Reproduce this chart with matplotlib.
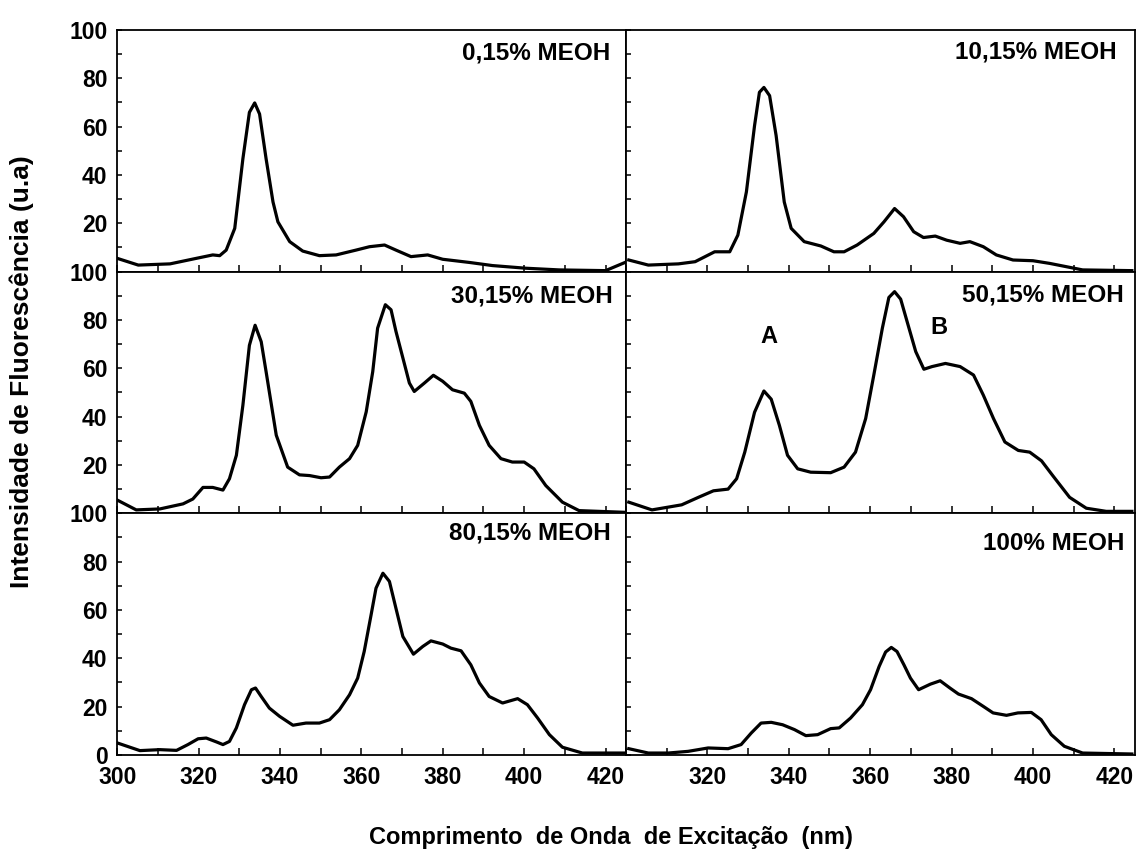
import matplotlib
matplotlib.use('Agg')
import matplotlib.pyplot as plt
from matplotlib.ticker import MultipleLocator

plt.rcParams['font.family'] = ['Liberation Sans', 'DejaVu Sans']
plt.rcParams['font.weight'] = 'bold'

# ----------------------------------------------------------------
# Data (wavelength nm, intensity u.a)
# ----------------------------------------------------------------
panel_titles = ['0,15% MEOH', '10,15% MEOH', '30,15% MEOH',
                '50,15% MEOH', '80,15% MEOH', '100% MEOH']

wl_0 = [300, 305.2, 313, 319.5, 323.5, 325.2, 326.8, 328.9, 330.9, 332.5, 333.8, 335,
        336.6, 338.3, 339.5, 342.4, 345.6, 349.7, 353.8, 358.7, 362, 365.7, 368.5,
        372.2, 376.3, 380, 386.5, 392.2, 400.4, 408.6, 420, 424.8]
int_0 = [5.5, 2.7, 3.2, 5.5, 6.9, 6.6, 8.9, 17.9, 46.7, 65.9, 69.8, 65.2,
         46.7, 28.8, 20.6, 12.4, 8.5, 6.6, 6.9, 8.9, 10.3, 11, 8.9,
         6.2, 6.9, 5.1, 3.8, 2.5, 1.4, 0.7, 0.4, 3.8]

wl_10 = [300.7, 305.5, 312.9, 317, 321.8, 325.5, 327.5, 329.6, 331.6, 332.8, 333.9,
         335.3, 336.9, 338.9, 340.6, 343.8, 347.9, 351.1, 353.6, 356.8, 360.9, 363.4,
         366, 368.2, 370.7, 373.1, 376, 378.8, 382.1, 384.5, 387.8, 391, 395.1, 400,
         404.1, 412.2, 424.3]
int_10 = [4.8, 2.7, 3.2, 4.1, 8.2, 8.2, 15.1, 33, 60.4, 74.2, 76.2,
          72.8, 56.3, 28.8, 17.9, 12.4, 10.6, 8.2, 8.2, 11, 15.8, 20.6,
          26.1, 22.7, 16.5, 14.1, 14.7, 13, 11.7, 12.4, 10.3, 6.9, 4.8, 4.5,
          3.4, 0.7, 0.4]

wl_30 = [300, 304.7, 310.5, 316.2, 318.6, 321.1, 323.5, 326, 327.6, 329.3, 330.9,
         332.5, 333.9, 335.4, 336.6, 339.1, 341.9, 344.8, 347.3, 350.1, 352.2, 354.6,
         357.1, 359.1, 361.2, 362.8, 364, 365.9, 367.3, 368.5, 370.2, 371.8, 373,
         375.5, 377.7, 380, 382.4, 385.3, 386.9, 389, 391.4, 394.3, 397.1, 400,
         402.4, 405.3, 409.4, 413.5, 424.8]
int_30 = [5.5, 1.4, 1.8, 3.9, 5.9, 10.7, 10.7, 9.6, 14.3, 24, 44.7,
          69.5, 77.8, 71, 58.6, 32.3, 19.1, 15.9, 15.6, 14.7, 15, 19.1,
          22.6, 28.1, 42, 58.6, 76.6, 86.3, 84.2, 75.3, 64.3, 53.9, 50.4,
          53.9, 57.1, 54.6, 51.1, 49.7, 46.3, 36.4, 28.1, 22.6, 21.2, 21.2,
          18.4, 11.5, 4.6, 1.1, 0.4]

wl_50 = [300.7, 306.4, 313.7, 317.8, 321.5, 325.1, 327.2, 329.2, 331.6, 333.9, 335.7,
         337.7, 339.7, 342.2, 345.4, 350.3, 353.6, 356.4, 358.9, 360.9, 363, 364.6,
         366, 367.5, 369.1, 371.2, 373.2, 375.2, 378.5, 382.1, 385.4, 387.8, 390.3,
         393.1, 396.4, 399.2, 402.1, 404.9, 409, 413.1, 418, 424.3]
int_50 = [4.6, 1.4, 3.5, 6.6, 9.3, 10, 14.3, 25.3, 41.8, 50.6, 47.2,
          36.4, 24, 18.4, 17, 16.8, 19.1, 25.3, 39.2, 57.2, 76.6, 89.3,
          91.7, 88.6, 79.2, 66.9, 59.6, 60.7, 62, 60.7, 57.2, 48.9, 39.2,
          29.5, 26, 25.3, 21.7, 15.5, 6.6, 2.1, 0.8, 0.8]

wl_80 = [300, 305.6, 310.5, 314.6, 317.4, 319.9, 321.9, 324.4, 326, 327.6, 329.3,
         331.3, 333, 334, 335.4, 337.4, 339.9, 343.2, 346.4, 349.7, 352.2, 354.6,
         357.1, 359.1, 360.7, 362.4, 363.6, 365.3, 366.9, 368.5, 370.2, 372.8, 375.1,
         377.1, 380, 382, 384.5, 386.9, 389, 391.4, 394.7, 398.4, 400.8, 403.3,
         406.2, 409.4, 414.3, 424.8]
int_80 = [5, 1.8, 2.2, 1.9, 4.3, 6.7, 7, 5.4, 4.3, 5.6, 11.2,
          20.8, 27, 27.7, 24.2, 19.4, 16, 12.3, 13.2, 13.2, 14.6, 18.7,
          24.9, 31.8, 42.8, 58, 69, 75.2, 71.8, 60.7, 49, 41.7, 44.9,
          47.2, 45.9, 44.2, 43.1, 37.3, 29.8, 24.2, 21.5, 23.3, 20.8, 15.3,
          8.4, 3.2, 0.8, 0.8]

wl_100 = [300.7, 305.5, 310.4, 315.3, 320.2, 325.1, 328.3, 330.8, 333.2, 335.7, 338.5,
          341.4, 344.2, 347.1, 350.3, 352.4, 355.2, 358.1, 360.1, 362.2, 363.8, 365.2,
          366.6, 368.3, 369.9, 371.9, 374.8, 377.2, 379.6, 381.7, 384.9, 387.8, 390.2,
          393.5, 396.3, 399.6, 402, 404.5, 407.7, 412.2, 424.3]
int_100 = [2.6, 0.8, 0.8, 1.5, 2.9, 2.6, 4.3, 9.1, 13.2, 13.5, 12.5,
           10.5, 8, 8.4, 10.9, 11.2, 15.3, 20.8, 27, 36.6, 42.6, 44.5,
           42.8, 37.3, 31.8, 27, 29.3, 30.7, 27.7, 25.2, 23.3, 20.1, 17.4,
           16.4, 17.4, 17.6, 14.6, 8.4, 3.6, 0.8, 0.4]

wavelengths = [wl_0, wl_10, wl_30, wl_50, wl_80, wl_100]
intensities = [int_0, int_10, int_30, int_50, int_80, int_100]

title_pos = [(0.970, 0.904), (0.964, 0.908), (0.975, 0.897),
             (0.978, 0.903), (0.970, 0.918), (0.979, 0.877)]

x_ticks = [300, 320, 340, 360, 380, 400, 420]
y_ticks = [0, 20, 40, 60, 80, 100]

# ----------------------------------------------------------------
# Figure
# ----------------------------------------------------------------
fig, axes = plt.subplots(3, 2, figsize=(11.37, 8.55), dpi=100,
                         gridspec_kw={'hspace': 0, 'wspace': 0})
fig.subplots_adjust(left=0.103, right=0.998, top=0.965, bottom=0.117)

for i, ax in enumerate(axes.flat):
    row, col = divmod(i, 2)
    ax.plot(wavelengths[i], intensities[i], color='black', lw=2.3,
            solid_joinstyle='round')
    ax.set_xlim(300, 425)
    ax.set_ylim(0, 100)

    ax.xaxis.set_minor_locator(MultipleLocator(10))
    ax.yaxis.set_minor_locator(MultipleLocator(10))
    ax.tick_params(which='both', direction='in', top=False, right=False,
                   labelsize=16.5, width=1.1)
    ax.tick_params(axis='x', which='both', length=5, pad=8)
    ax.tick_params(axis='y', which='both', length=3.5, pad=7)

    # x labels only on the bottom row, right column drops the 300
    if row == 2:
        xl = [str(t) for t in x_ticks]
        if col == 1:
            xl[0] = ''
        ax.set_xticks(x_ticks, xl)
    else:
        ax.set_xticks(x_ticks, [''] * len(x_ticks))

    # y labels only on the left column, 0 hidden except bottom row
    if col == 0:
        yl = [str(t) for t in y_ticks]
        if row < 2:
            yl[0] = ''
        ax.set_yticks(y_ticks, yl)
    else:
        ax.set_yticks(y_ticks, [''] * len(y_ticks))

    for lab in ax.get_xticklabels() + ax.get_yticklabels():
        lab.set_fontweight('bold')
    for sp in ax.spines.values():
        sp.set_linewidth(1.3)

    tx, ty = title_pos[i]
    ax.text(tx, ty, panel_titles[i], transform=ax.transAxes, ha='right',
            va='center', fontsize=17.5, fontweight='bold')

# peak labels on the 50,15% panel
axes[1, 1].text(335.1, 73, 'A', ha='center', va='center', fontsize=17,
                fontweight='bold')
axes[1, 1].text(376.9, 76.8, 'B', ha='center', va='center', fontsize=17,
                fontweight='bold')

fig.text(0.537, 0.02, 'Comprimento  de Onda  de Excitação  (nm)', ha='center',
         va='center', fontsize=17, fontweight='bold')
fig.text(0.0195, 0.565, 'Intensidade de Fluorescência (u.a)', ha='center',
         va='center', rotation=90, fontsize=19, fontweight='bold')

fig.savefig('out.png', dpi=100)
